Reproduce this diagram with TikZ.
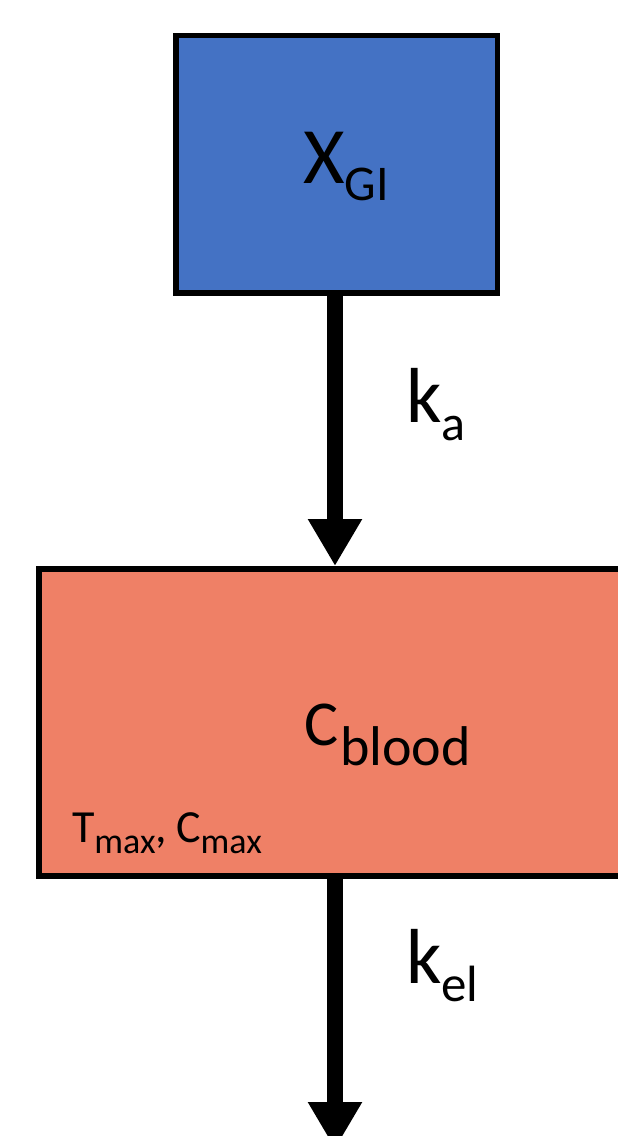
\documentclass[tikz,border=0pt]{standalone}
\usepackage{fontspec}
\setmainfont{Carlito}
\usetikzlibrary{arrows.meta}
\definecolor{boxblue}{RGB}{68,114,196}
\definecolor{boxsalmon}{RGB}{239,128,102}
\tikzset{
  box/.style={draw=black, line width=5.5pt, rectangle, inner sep=0pt, outer sep=0pt},
  flow/.style={line width=16pt, -{Triangle[length=47pt,width=51pt]}},
  lab/.style={anchor=base west, inner sep=0pt, outer sep=0pt, text=black}
}
\newcommand{\fs}[1]{\fontsize{#1}{#1}\selectfont}
\begin{document}
\begin{tikzpicture}[x=1pt,y=1pt]
\useasboundingbox (0,0) rectangle (618,-1136);
\clip (0,0) rectangle (618,-1136);
\node[box, fill=boxblue, minimum width=321.5pt, minimum height=257.5pt] (gi) at (336.75,-164.25) {};
\node[box, fill=boxsalmon, minimum width=661pt, minimum height=307pt] (blood) at (369.5,-722.5) {};
\coordinate (ax) at (335,0);
\coordinate (out) at (335,-1149);
\draw[flow, shorten >=3pt] (gi.south -| ax) -- (blood.north -| ax);
\draw[flow] (blood.south -| ax) -- (out);
\node[lab] (xgi) at (303,-183) {\fs{80}X\fs{50}\raisebox{-17pt}{GI}};
\node[lab] (ka) at (406,-422) {\fs{78}k\fs{50}\raisebox{-18pt}{a}};
\node[lab] (cb) at (304,-745) {\fs{64}C\kern2pt\fs{56}\raisebox{-20pt}{blood}};
\node[lab] (tc) at (72,-842) {\fs{46}T\fs{36}\raisebox{-11pt}{max}\fs{46},\kern9pt C\fs{36}\raisebox{-11pt}{max}};
\node[lab] (kel) at (406,-983) {\fs{78}k\fs{51}\raisebox{-18pt}{el}};
\end{tikzpicture}
\end{document}
